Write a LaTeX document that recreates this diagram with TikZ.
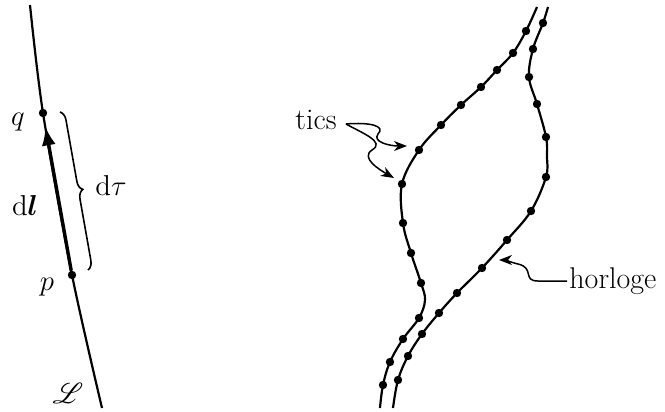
\documentclass[tikz,border=0pt]{standalone}
\usepackage{amsmath}
\usepackage{bm}
\usepackage{mathrsfs}
\usepackage{tikz}
\usetikzlibrary{arrows.meta,decorations.pathreplacing}

\begin{document}
\begin{tikzpicture}[
  x=0.5pt, y=-0.5pt,
  world/.style={line width=1.1pt},
  tic/.style={circle, fill, inner sep=0pt, minimum size=4.2pt},
  lbl/.style={font=\fontsize{15}{17}\selectfont, inner sep=1pt},
  pointer/.style={-{Stealth[length=6.5pt,width=5pt,inset=2pt]}, line width=0.75pt}
]
  \useasboundingbox (0,0) rectangle (665,412);

  % ligne d'univers L
  \node[tic] (q) at (43,113) {};
  \node[tic] (p) at (72,275) {};
  \draw[world] plot[smooth] coordinates {(30,5) (43,113) (72,275) (102,408)};
  \draw[line width=1.7pt, -{Latex[length=9.5pt,width=7pt]}, shorten >=4.5pt] (p) -- (q);
  \coordinate (btop) at (60,112);
  \coordinate (bbot) at (88,270);
  \draw[line width=0.8pt, decorate, decoration={brace, amplitude=4.5pt}] (btop) -- (bbot);

  \node[lbl] (lq)   at (18,122)  {$q$};
  \node[lbl] (lp)   at (47,287)  {$p$};
  \node[lbl] (ldl)  at (25,205)  {$\mathrm{d}\bm{l}$};
  \node[lbl] (ldt)  at (111,185) {$\mathrm{d}\tau$};
  \node[lbl] (lL)   at (68,393)  {$\mathscr{L}$};

  % horloge A
  \draw[world] plot[smooth, tension=0.6] coordinates {(380,408) (383,385) (390,362) (403,339)
    (419,318) (425,300) (421,283) (411,253) (403,223) (402,184) (419,150) (441,125)
    (461,105) (481,87) (497,70) (513,53) (526,31) (537,7)};
  \foreach \pt [count=\i] in {(383,385),(390,362),(403,339),(419,318),(421,283),(411,253),
    (403,223),(402,184),(419,150),(441,125),(461,105),(481,87),(497,70),(513,53),(526,31)}
    \node[tic] (a\i) at \pt {};

  % horloge B
  \draw[world] plot[smooth, tension=0.6] coordinates {(393,408) (398,380) (408,356) (422,334)
    (439,313) (457,293) (482,268) (507,240) (531,211) (546,177) (547,157) (546,137)
    (537,104) (529,77) (533,49) (543,23) (548,7)};
  \foreach \pt [count=\i] in {(398,380),(408,356),(422,334),(439,313),(457,293),(482,268),
    (507,240),(531,211),(546,177),(546,137),(537,104),(529,77),(533,49),(543,23)}
    \node[tic] (b\i) at \pt {};

  % legendes
  \node[lbl] (tics) at (316,120) {tics};
  \node[lbl, anchor=west] (horloge) at (567,281) {horloge};

  \draw[pointer] (346,124) .. controls (370,122) and (386,126) .. (378,134)
    .. controls (372,142) and (390,146) .. (407,146);
  \draw[pointer] (346,124) .. controls (362,133) and (386,142) .. (372,150)
    .. controls (360,158) and (380,170) .. (394,178);
  \draw[pointer] (horloge.west) -- (538,281) .. controls (522,281) and (535,268) .. (518,264)
    .. controls (510,262) and (505,260) .. (499,260);
\end{tikzpicture}
\end{document}
